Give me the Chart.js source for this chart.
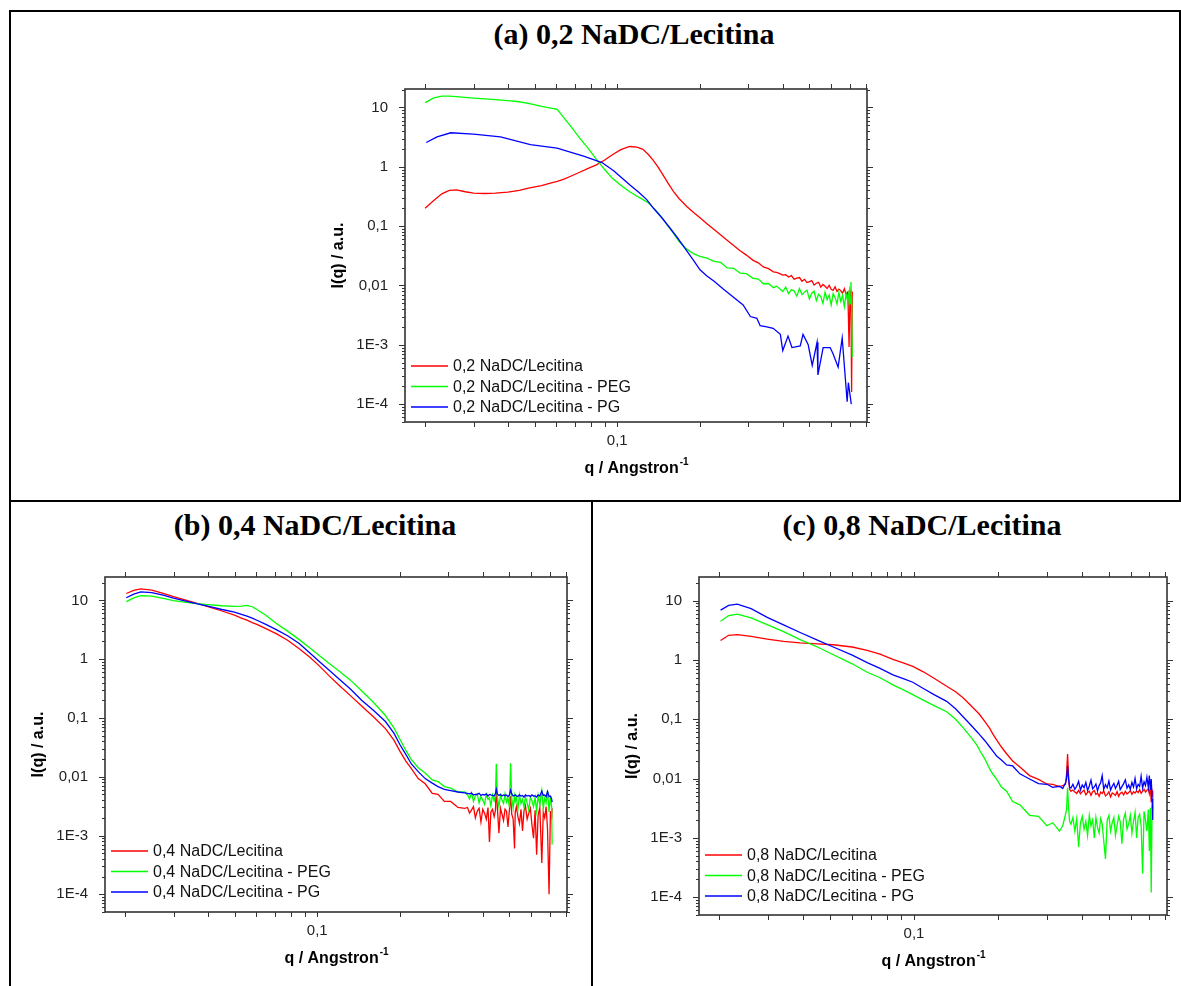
<!DOCTYPE html>
<html>
<head>
<meta charset="utf-8">
<script src="https://cdn.jsdelivr.net/npm/chart.js@4.4.1/dist/chart.umd.min.js"></script>
<style>
  html, body { margin: 0; padding: 0; background: #fff; }
  body { position: relative; width: 1181px; height: 986px; overflow: hidden; }
  .rule { position: absolute; background: #000; }
  .title { position: absolute; width: 600px; text-align: center; color: #000;
           font: bold 30px "Liberation Serif", "Times New Roman", serif; line-height: 34px; }
  canvas { position: absolute; }
</style>
</head>
<body>
<!-- table borders -->
<div class="rule" style="left:9px;top:10px;width:1172px;height:2px"></div>
<div class="rule" style="left:9px;top:10px;width:2px;height:976px"></div>
<div class="rule" style="left:1179px;top:10px;width:2px;height:492px"></div>
<div class="rule" style="left:9px;top:500px;width:1172px;height:2px"></div>
<div class="rule" style="left:591px;top:500px;width:2px;height:486px"></div>

<div class="title" style="left:334px;top:17px">(a) 0,2 NaDC/Lecitina</div>
<div class="title" style="left:15px;top:508px">(b) 0,4 NaDC/Lecitina</div>
<div class="title" style="left:622px;top:508px">(c) 0,8 NaDC/Lecitina</div>

<canvas id="chartA" width="562" height="411" style="left:325px;top:71px"></canvas>
<canvas id="chartB" width="562" height="413" style="left:25px;top:559px"></canvas>
<canvas id="chartC" width="562" height="416" style="left:619px;top:559px"></canvas>

<script>
// axis texts
const yTitle = "I(q) / a.u.";
const xTitleMain = "q / Angstron";
const xTitleSup = "-1";
const yMajor = [1e-4, 1e-3, 1e-2, 0.1, 1, 10];
const yTickLabels = ["1E-4", "1E-3", "0,01", "0,1", "1", "10"];
const xLabelValues = [0.1];
const xLabelText = ["0,1"];
const xTickValues = [0.02, 0.03, 0.04, 0.05, 0.06, 0.07, 0.08, 0.09, 0.1, 0.2, 0.3, 0.4, 0.5, 0.6, 0.7, 0.8];

// ---- (a) 0,2 NaDC/Lecitina ----
const labelsA = ["0,2 NaDC/Lecitina", "0,2 NaDC/Lecitina - PEG", "0,2 NaDC/Lecitina - PG"];
const qA = [0.0200,0.0215,0.0230,0.0245,0.0260,0.0280,0.0300,0.0330,0.0360,0.0400,
  0.0440,0.0480,0.0530,0.0580,0.0605,0.0640,0.0680,0.0730,0.0780,0.0840,
  0.0900,0.0960,0.1030,0.1110,0.1180,0.1240,0.1300,0.1350,0.1410,0.1470,
  0.1530,0.1600,0.1680,0.1790,0.1900,0.2000,0.2120,0.2250,0.2380,0.2510,
  0.2650,0.2800,0.2950,0.3120,0.3260,0.3400,0.3550,0.3700];
const qATail = [0.380,0.390,0.400,0.410,0.420,0.430,0.440,0.450,0.460,0.470,
  0.480,0.490,0.500,0.510,0.520,0.530,0.540,0.550,0.560,0.570,
  0.580,0.590,0.600,0.610,0.620,0.630,0.640,0.650,0.660,0.670,
  0.680,0.690,0.697,0.703,0.708,0.712,0.716];
const aRed = [0.20,0.27,0.35,0.40,0.41,0.38,0.36,0.355,0.36,0.375,
  0.40,0.44,0.48,0.54,0.57,0.62,0.70,0.81,0.93,1.08,
  1.30,1.60,1.95,2.20,2.15,1.97,1.60,1.30,0.98,0.72,
  0.53,0.385,0.29,0.215,0.168,0.138,0.110,0.088,0.071,0.058,
  0.047,0.0385,0.0325,0.0265,0.0241,0.0205,0.0192,0.0170];
const aRedTail = [0.0166,0.0158,0.0150,0.0152,0.0139,0.0147,0.0128,0.0133,0.0136,0.0118,
  0.0127,0.0112,0.0116,0.0121,0.0102,0.0109,0.0113,0.0094,0.0104,0.0097,
  0.0089,0.0101,0.0086,0.0083,0.0095,0.0079,0.0087,0.0082,0.0074,0.0088,
  0.0071,0.0078,0.00092,0.0080,0.0068,0.00016,0.0079];
const aGreen = [12.1,14.5,15.5,15.6,15.3,14.8,14.4,14.0,13.6,13.1,
  12.5,11.6,10.4,9.7,9.3,6.7,4.7,3.05,2.1,1.34,
  0.90,0.64,0.49,0.38,0.32,0.28,0.245,0.205,0.165,0.13,
  0.10,0.076,0.055,0.041,0.034,0.031,0.029,0.0255,0.0245,0.0198,
  0.0195,0.0162,0.0158,0.0132,0.0128,0.0107,0.0108,0.0092];
const aGreenTail = [0.0097,0.0088,0.0079,0.0094,0.0073,0.0085,0.0081,0.0066,0.0089,0.0070,
  0.0078,0.0083,0.0059,0.0074,0.0080,0.0056,0.0071,0.0065,0.0050,0.0077,
  0.0058,0.0069,0.0047,0.0073,0.0063,0.0049,0.0076,0.0054,0.0068,0.0044,
  0.0072,0.0052,0.0081,0.0049,0.0115,0.0058,0.00062];
const qABlue = [0.0202,0.0221,0.0248,0.0300,0.0376,0.0483,0.0604,0.0754,0.0880,0.0970,
  0.1040,0.1115,0.1200,0.1280,0.1355,0.1450,0.1550,0.1650,0.1780,0.1900,
  0.2000,0.2120,0.2250,0.2430,0.2600,0.2870,0.3050,0.3220,0.3310,0.3500,
  0.3690,0.3920,0.4000,0.4180,0.4320,0.4630,0.4740,0.4950,0.5120,0.5330,
  0.5370,0.5610,0.5950,0.6100,0.6360,0.6580,0.6860,0.6930,0.7100];
const aBlue = [2.57,3.2,3.75,3.56,3.2,2.36,2.07,1.51,1.18,0.86,
  0.65,0.49,0.37,0.28,0.20,0.14,0.095,0.065,0.040,0.026,
  0.0184,0.0145,0.0118,0.0087,0.0068,0.0047,0.0030,0.0028,0.0021,0.0020,
  0.0019,0.0015,0.0008,0.0014,0.0009,0.00096,0.0015,0.0010,0.00045,0.0011,
  0.00031,0.0009,0.0009,0.0007,0.00042,0.0013,0.00011,0.00023,0.0001];

// ---- (b) 0,4 NaDC/Lecitina ----
const labelsB = ["0,4 NaDC/Lecitina", "0,4 NaDC/Lecitina - PEG", "0,4 NaDC/Lecitina - PG"];
const qB = [0.0202,0.0215,0.0228,0.0250,0.0275,0.0300,0.0350,0.0400,0.0450,0.0500,
  0.0530,0.0555,0.0580,0.0603,0.0650,0.0712,0.0780,0.0860,0.0940,0.1017,
  0.1100,0.1200,0.1320,0.1450,0.1600,0.1770,0.1900,0.2000,0.2100,0.2200,
  0.2330,0.2470,0.2620,0.2750,0.2900,0.3060,0.3250,0.3440];
const qBTail = [0.352,0.358,0.364,0.370,0.376,0.382,0.388,0.394,0.400,0.406,
  0.412,0.418,0.423,0.428,0.434,0.440,0.445,0.448,0.452,0.458,
  0.464,0.470,0.476,0.482,0.488,0.494,0.500,0.505,0.510,0.516,
  0.522,0.525,0.530,0.537,0.544,0.551,0.558,0.565,0.572,0.580,
  0.588,0.596,0.604,0.612,0.620,0.628,0.636,0.645,0.656,0.664,
  0.672,0.680,0.688,0.697,0.705,0.712,0.715];
const bRed = [13.1,14.8,15.7,15.0,13.2,11.6,9.4,7.8,6.6,5.6,
  5.0,4.6,4.2,3.9,3.3,2.7,2.1,1.5,1.08,0.77,
  0.53,0.36,0.24,0.16,0.105,0.066,0.042,0.027,0.0185,0.0138,
  0.0093,0.0076,0.0052,0.0050,0.0038,0.0038,0.0030,0.0029];
const bRedTail = [0.0030,0.0024,0.0027,0.0031,0.0020,0.0026,0.0029,0.0017,0.0028,0.0024,
  0.0019,0.0030,0.00078,0.0025,0.0028,0.0021,0.0027,0.0078,0.0030,0.0011,
  0.0029,0.0023,0.0018,0.0028,0.0026,0.0014,0.0027,0.0047,0.0023,0.0019,
  0.0006,0.0025,0.0031,0.0021,0.0016,0.0028,0.0012,0.0026,0.0032,0.0019,
  0.0024,0.0029,0.0015,0.0009,0.0027,0.00047,0.0022,0.0030,0.00034,0.0025,
  0.0020,0.0031,0.0013,0.0001,0.0026,0.0019,0.0029];
const bGreen = [9.5,11.0,12.0,11.8,10.8,9.9,9.0,8.5,8.1,7.9,
  8.0,8.2,7.8,7.0,5.6,4.0,3.0,2.15,1.55,1.15,
  0.86,0.63,0.44,0.29,0.185,0.11,0.068,0.043,0.028,0.0195,
  0.0142,0.0116,0.0088,0.0083,0.0068,0.0064,0.0055,0.0055];
const bGreenTail = [0.0049,0.0042,0.0053,0.0038,0.0047,0.0051,0.0036,0.0046,0.0040,0.0034,
  0.0050,0.0041,0.0044,0.0032,0.0049,0.0039,0.0047,0.0166,0.0045,0.0031,
  0.0048,0.0040,0.0035,0.0051,0.0037,0.0044,0.0030,0.0170,0.0043,0.0029,
  0.0047,0.0038,0.0045,0.0028,0.0049,0.0035,0.0041,0.0030,0.0046,0.0036,
  0.0027,0.0045,0.0039,0.0031,0.0044,0.0026,0.0048,0.0033,0.0057,0.0029,
  0.0043,0.0036,0.0058,0.0025,0.0047,0.0031,0.0007];
const bBlue = [11.1,12.8,14.0,13.6,12.3,10.9,9.2,8.0,7.0,6.3,
  5.8,5.4,5.0,4.6,3.9,3.15,2.5,1.85,1.27,0.91,
  0.66,0.46,0.31,0.20,0.135,0.087,0.055,0.035,0.024,0.0165,
  0.0122,0.0093,0.0078,0.0068,0.0061,0.0058,0.0055,0.0053];
const bBlueTail = [0.0052,0.0051,0.0053,0.0049,0.0050,0.0050,0.0052,0.0048,0.0050,0.0049,
  0.0051,0.0047,0.0050,0.0049,0.0048,0.0047,0.0052,0.0061,0.0051,0.0048,
  0.0050,0.0047,0.0049,0.0048,0.0049,0.0046,0.0049,0.0059,0.0051,0.0047,
  0.0048,0.0049,0.0047,0.0046,0.0049,0.0047,0.0048,0.0045,0.0049,0.0047,
  0.0048,0.0046,0.0049,0.0047,0.0047,0.0045,0.0049,0.0047,0.0057,0.0048,
  0.0049,0.0046,0.0056,0.0046,0.0047,0.0042,0.0037];

// ---- (c) 0,8 NaDC/Lecitina ----
const labelsC = ["0,8 NaDC/Lecitina", "0,8 NaDC/Lecitina - PEG", "0,8 NaDC/Lecitina - PG"];
const qC = [0.0202,0.0216,0.0232,0.0260,0.0297,0.0340,0.0390,0.0450,0.0513,0.0600,
  0.0679,0.0755,0.0840,0.0920,0.0990,0.1080,0.1180,0.1310,0.1410,0.1500,
  0.1600,0.1680,0.1720,0.1800,0.1870,0.1920,0.1980,0.2060,0.2150,0.2260,
  0.2400,0.2600,0.2800,0.3000,0.3150,0.3330,0.3420,0.3500];
const qCTail = [0.353,0.356,0.359,0.362,0.366,0.372,0.378,0.384,0.390,0.396,
  0.402,0.408,0.414,0.420,0.426,0.432,0.438,0.444,0.450,0.456,
  0.462,0.468,0.474,0.480,0.487,0.494,0.501,0.508,0.515,0.522,
  0.529,0.536,0.543,0.550,0.558,0.566,0.574,0.582,0.590,0.598,
  0.606,0.614,0.622,0.630,0.638,0.646,0.654,0.662,0.670,0.678,
  0.686,0.694,0.700,0.706,0.711,0.716,0.720];
const cRed = [2.13,2.6,2.67,2.5,2.25,2.05,1.93,1.86,1.8,1.65,
  1.45,1.25,1.02,0.88,0.78,0.63,0.49,0.36,0.29,0.23,
  0.17,0.135,0.12,0.09,0.07,0.056,0.045,0.034,0.0262,0.0198,
  0.0156,0.0112,0.0097,0.0081,0.0080,0.0073,0.0076,0.0080];
const cRedTail = [0.0120,0.0260,0.0110,0.0066,0.0061,0.0064,0.0059,0.0056,0.0063,0.0055,
  0.0060,0.0064,0.0053,0.0058,0.0061,0.0052,0.0060,0.0063,0.0054,0.0057,
  0.0050,0.0059,0.0056,0.0062,0.0051,0.0054,0.0060,0.0049,0.0057,0.0055,
  0.0052,0.0060,0.0050,0.0056,0.0059,0.0053,0.0061,0.0055,0.0058,0.0063,
  0.0054,0.0060,0.0057,0.0062,0.0058,0.0065,0.0056,0.0061,0.0066,0.0059,
  0.0063,0.0067,0.0055,0.0068,0.0040,0.0062,0.0055];
const cGreen = [4.5,5.6,5.9,5.1,3.95,3.0,2.2,1.65,1.22,0.86,
  0.62,0.5,0.38,0.31,0.26,0.21,0.17,0.134,0.10,0.072,
  0.05,0.037,0.03,0.021,0.0145,0.0118,0.0098,0.0072,0.0061,0.0041,
  0.0036,0.0024,0.0023,0.0016,0.0018,0.0013,0.0016,0.0025];
const cGreenTail = [0.0030,0.0070,0.0032,0.0019,0.0017,0.0022,0.0013,0.0021,0.0007,0.0018,
  0.0023,0.0014,0.0019,0.0011,0.0024,0.0016,0.0020,0.0010,0.0022,0.0015,
  0.0012,0.0021,0.0017,0.0009,0.00044,0.0020,0.0024,0.0013,0.0018,0.0022,
  0.0011,0.0016,0.0023,0.0019,0.0008,0.0021,0.0026,0.0014,0.0017,0.0024,
  0.0012,0.0019,0.0027,0.0010,0.0022,0.0025,0.0016,0.00025,0.0028,0.0020,
  0.0013,0.0030,0.0006,0.0032,0.00012,0.0035,0.0030];
const cBlue = [6.9,8.3,8.7,7.3,5.2,3.9,2.9,2.15,1.65,1.2,
  0.9,0.72,0.56,0.48,0.42,0.33,0.26,0.2,0.15,0.11,
  0.08,0.062,0.055,0.043,0.034,0.029,0.024,0.0205,0.017,0.0163,
  0.012,0.0098,0.0082,0.0080,0.0071,0.0074,0.0068,0.0085];
const cBlueTail = [0.0100,0.0160,0.0095,0.0072,0.0069,0.0080,0.0066,0.0074,0.0090,0.0064,
  0.0078,0.0070,0.0086,0.0063,0.0075,0.0094,0.0067,0.0072,0.0081,0.0062,
  0.0076,0.0085,0.0112,0.0066,0.0079,0.0070,0.0091,0.0064,0.0074,0.0083,
  0.0068,0.0077,0.0090,0.0065,0.0073,0.0082,0.0095,0.0069,0.0078,0.0066,
  0.0086,0.0072,0.0100,0.0067,0.0080,0.0074,0.0110,0.0069,0.0088,0.0076,
  0.0105,0.0071,0.0112,0.0064,0.0098,0.0045,0.0020];

const seriesColors = ["#ff0000", "#00ff00", "#0000ff"];
const fontFamily = '"Liberation Sans", Arial, sans-serif';
Chart.defaults.font.family = fontFamily;
Chart.defaults.color = "#222";

// frame, mirrored tick marks, inside legend and x title with superscript
const frameTicks = {
  id: "frameTicks",
  afterDatasetsDraw(chart, args, opts) {
    const { ctx, chartArea: a, scales: { x, y } } = chart;
    ctx.save();
    ctx.strokeStyle = "#333";
    ctx.lineWidth = 1;
    ctx.beginPath();
    xTickValues.forEach(v => {
      const px = Math.round(x.getPixelForValue(v)) + 0.5;
      ctx.moveTo(px, a.bottom); ctx.lineTo(px, a.bottom + 5);
      ctx.moveTo(px, a.top); ctx.lineTo(px, a.top - 5);
    });
    for (let d = -5; d <= 1; d++) {
      for (let m = 1; m <= 9; m++) {
        const v = m * Math.pow(10, d);
        if (v < y.min || v > y.max) continue;
        const len = m === 1 ? 6 : 3;
        const py = Math.round(y.getPixelForValue(v)) + 0.5;
        ctx.moveTo(a.left, py); ctx.lineTo(a.left - len, py);
        ctx.moveTo(a.right, py); ctx.lineTo(a.right + len, py);
      }
    }
    ctx.stroke();
    ctx.lineWidth = 1.6;
    ctx.strokeRect(a.left, a.top, a.right - a.left, a.bottom - a.top);

    // legend
    ctx.font = "16px " + fontFamily;
    ctx.textBaseline = "middle";
    ctx.textAlign = "left";
    chart.data.datasets.forEach((ds, i) => {
      const ly = a.bottom - opts.legendBottom + i * 20.5;
      ctx.strokeStyle = ds.borderColor;
      ctx.lineWidth = 1.5;
      ctx.beginPath();
      ctx.moveTo(a.left + 6, ly); ctx.lineTo(a.left + 43, ly);
      ctx.stroke();
      ctx.fillStyle = "#111";
      ctx.fillText(ds.label, a.left + 48, ly + 1);
    });

    // x axis title
    ctx.fillStyle = "#000";
    ctx.font = "bold 16px " + fontFamily;
    const w1 = ctx.measureText(xTitleMain).width;
    ctx.font = "bold 10px " + fontFamily;
    const w2 = ctx.measureText(xTitleSup).width;
    const x0 = (a.left + a.right) / 2 - (w1 + w2) / 2;
    const ty = a.bottom + 47;
    ctx.font = "bold 16px " + fontFamily;
    ctx.fillText(xTitleMain, x0, ty);
    ctx.font = "bold 10px " + fontFamily;
    ctx.fillText(xTitleSup, x0 + w1 + 1, ty - 7);
    ctx.restore();
  }
};

function makeChart(id, sets, labels, yMax, padRight, legendBottom) {
  const ctx = document.getElementById(id).getContext("2d");
  return new Chart(ctx, {
    type: "scatter",
    data: {
      datasets: sets.map((s, i) => ({
        label: labels[i],
        data: s.q.map((v, k) => ({ x: v, y: s.vals[k] })),
        showLine: true,
        borderColor: seriesColors[i],
        backgroundColor: seriesColors[i],
        borderWidth: 1.3,
        pointRadius: 0,
        order: sets.length - i
      }))
    },
    options: {
      responsive: false,
      animation: false,
      events: [],
      layout: { padding: { top: 10, right: padRight, left: 0, bottom: 0 } },
      plugins: {
        legend: { display: false },
        tooltip: { enabled: false },
        frameTicks: { legendBottom: legendBottom }
      },
      scales: {
        x: {
          type: "logarithmic", min: 0.0169, max: 0.81,
          grid: { display: false }, border: { display: false },
          afterBuildTicks: s => { s.ticks = xLabelValues.map(v => ({ value: v })); },
          afterFit: s => { s.height = 60; },
          ticks: {
            autoSkip: false, maxRotation: 0, padding: 2,
            font: { size: 15 }, color: "#222",
            callback: v => { const k = xLabelValues.indexOf(v); return k < 0 ? "" : xLabelText[k]; }
          }
        },
        y: {
          type: "logarithmic", min: 5e-5, max: yMax,
          grid: { display: false }, border: { display: false },
          afterBuildTicks: s => { s.ticks = yMajor.map(v => ({ value: v })); },
          afterFit: s => { s.width = 80; },
          ticks: {
            autoSkip: false, padding: 9,
            font: { size: 15 }, color: "#222",
            callback: v => { const k = yMajor.indexOf(v); return k < 0 ? "" : yTickLabels[k]; }
          },
          title: {
            display: true, text: yTitle, color: "#000",
            font: { size: 16, weight: "bold" }, padding: { top: 4, bottom: 0 }
          }
        }
      }
    },
    plugins: [frameTicks]
  });
}

makeChart("chartA", [
  { q: qA.concat(qATail), vals: aRed.concat(aRedTail) },
  { q: qA.concat(qATail), vals: aGreen.concat(aGreenTail) },
  { q: qABlue, vals: aBlue }
], labelsA, 20.5, 20, 56);

makeChart("chartB", [
  { q: qB.concat(qBTail), vals: bRed.concat(bRedTail) },
  { q: qB.concat(qBTail), vals: bGreen.concat(bGreenTail) },
  { q: qB.concat(qBTail), vals: bBlue.concat(bBlueTail) }
], labelsB, 25, 20, 61);

makeChart("chartC", [
  { q: qC.concat(qCTail), vals: cRed.concat(cRedTail) },
  { q: qC.concat(qCTail), vals: cGreen.concat(cGreenTail) },
  { q: qC.concat(qCTail), vals: cBlue.concat(cBlueTail) }
], labelsC, 25, 14, 60);
</script>
</body>
</html>
